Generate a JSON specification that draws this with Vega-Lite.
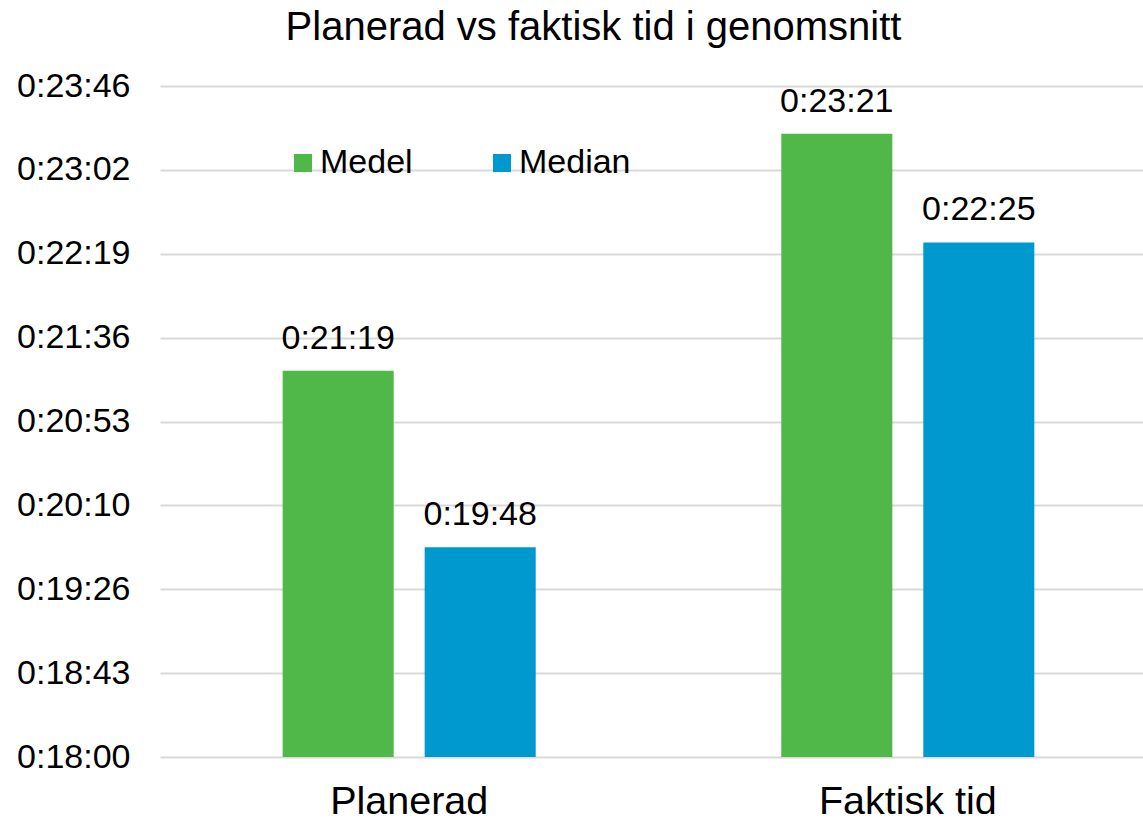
{
  "$schema": "https://vega.github.io/schema/vega-lite/v6.json",
  "width": 983,
  "height": 671,
  "autosize": {"type": "none"},
  "padding": {"left": 160, "top": 86, "right": 0, "bottom": 65},
  "background": "white",
  "config": {
    "font": "Liberation Sans",
    "view": {"stroke": null}
  },
  "title": {
    "text": "Planerad vs faktisk tid i genomsnitt",
    "fontSize": 40,
    "fontWeight": "normal",
    "color": "#000000",
    "anchor": "middle",
    "baseline": "alphabetic",
    "dx": -58,
    "offset": -10.5
  },
  "data": {
    "values": [
      {"category": "Planerad", "series": "Medel", "seconds": 1279, "label": "0:21:19"},
      {"category": "Planerad", "series": "Median", "seconds": 1188, "label": "0:19:48"},
      {"category": "Faktisk tid", "series": "Medel", "seconds": 1401, "label": "0:23:21"},
      {"category": "Faktisk tid", "series": "Median", "seconds": 1345, "label": "0:22:25"}
    ]
  },
  "encoding": {
    "x": {
      "field": "category",
      "type": "nominal",
      "sort": ["Planerad", "Faktisk tid"],
      "scale": {"domain": ["Planerad", "Faktisk tid"], "range": [0, 997], "paddingInner": 0.4925, "paddingOuter": 0.246},
      "axis": {
        "title": null,
        "domain": false,
        "ticks": false,
        "tickSize": 0,
        "labelFontSize": 39.5,
        "labelColor": "#000000",
        "labelAngle": 0,
        "labelBaseline": "alphabetic",
        "labelPadding": 56
      }
    },
    "xOffset": {
      "field": "series",
      "type": "nominal",
      "scale": {"domain": ["Medel", "Median"], "paddingInner": 0.218, "paddingOuter": 0}
    },
    "y": {
      "field": "seconds",
      "type": "quantitative",
      "scale": {"domain": [1080, 1425.6], "nice": false, "zero": false},
      "axis": {
        "title": null,
        "domain": false,
        "ticks": false,
        "tickSize": 0,
        "values": [1080, 1123.2, 1166.4, 1209.6, 1252.8, 1296, 1339.2, 1382.4, 1425.6],
        "labelExpr": "utcFormat(round(datum.value)*1000, '0:%M:%S')",
        "labelFontSize": 34,
        "labelColor": "#000000",
        "labelPadding": 30,
        "gridColor": "#D9D9D9",
        "gridWidth": 2
      }
    }
  },
  "layer": [
    {
      "mark": {"type": "bar"},
      "encoding": {
        "y2": {"datum": 1080},
        "color": {
          "field": "series",
          "type": "nominal",
          "scale": {"domain": ["Medel", "Median"], "range": ["#50B848", "#0099CF"]},
          "legend": {
            "title": null,
            "orient": "none",
            "direction": "horizontal",
            "legendX": 126,
            "legendY": 60,
            "symbolType": "square",
            "symbolSize": 324,
            "symbolStrokeWidth": 0,
            "labelFontSize": 34,
            "labelColor": "#000000",
            "labelOffset": 0,
            "columnPadding": 72,
            "padding": 0
          }
        }
      }
    },
    {
      "mark": {"type": "text", "fontSize": 34, "color": "#000000", "baseline": "alphabetic", "dy": -22},
      "encoding": {
        "text": {"field": "label", "type": "nominal"}
      }
    }
  ]
}
